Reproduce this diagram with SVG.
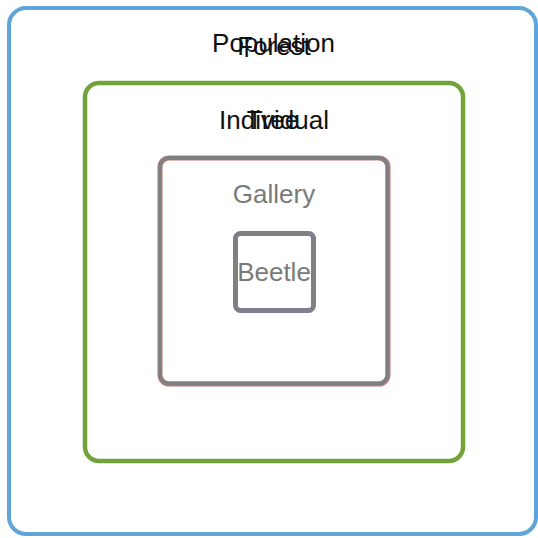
<svg xmlns="http://www.w3.org/2000/svg" width="538" height="538" viewBox="0 0 538 538">
  <style>
    .lbl { font-family: "Liberation Sans", Arial, sans-serif; font-size: 26px; text-anchor: middle; }
    .dark { fill: #111111; }
    .grey { fill: #7a7a7a; }
    rect { fill: none; }
  </style>
  <rect x="0" y="0" width="538" height="538" fill="#ffffff" style="fill:#ffffff"/>
  <g id="population">
    <rect x="9" y="8" width="527" height="526" rx="17" stroke="#5DA5DA" stroke-width="4"/>
    <text class="lbl dark" x="273.5" y="52">Population</text>
  </g>
  <g id="forest">
    <text class="lbl dark" x="274" y="55">Forest</text>
  </g>
  <g id="individual">
    <rect x="85" y="83" width="378" height="378" rx="14" stroke="#72A33A" stroke-width="4.5"/>
    <text class="lbl dark" x="274" y="129">Individual</text>
  </g>
  <g id="tree">
    <text class="lbl dark" x="273" y="129">Tree</text>
  </g>
  <g id="gallery">
    <rect x="160" y="158" width="228" height="226" rx="9" stroke="#C87878" stroke-width="5"/>
    <rect x="160" y="158" width="227.5" height="225.5" rx="9" stroke="#808080" stroke-width="4"/>
    <text class="lbl grey" x="274" y="203">Gallery</text>
  </g>
  <g id="beetle">
    <rect x="235.5" y="233.5" width="78" height="77" rx="5" stroke="#7A7AB8" stroke-width="5"/>
    <rect x="235.5" y="233.5" width="78" height="77" rx="5" stroke="#808080" stroke-width="4"/>
    <text class="lbl grey" x="274" y="281">Beetle</text>
  </g>
</svg>
